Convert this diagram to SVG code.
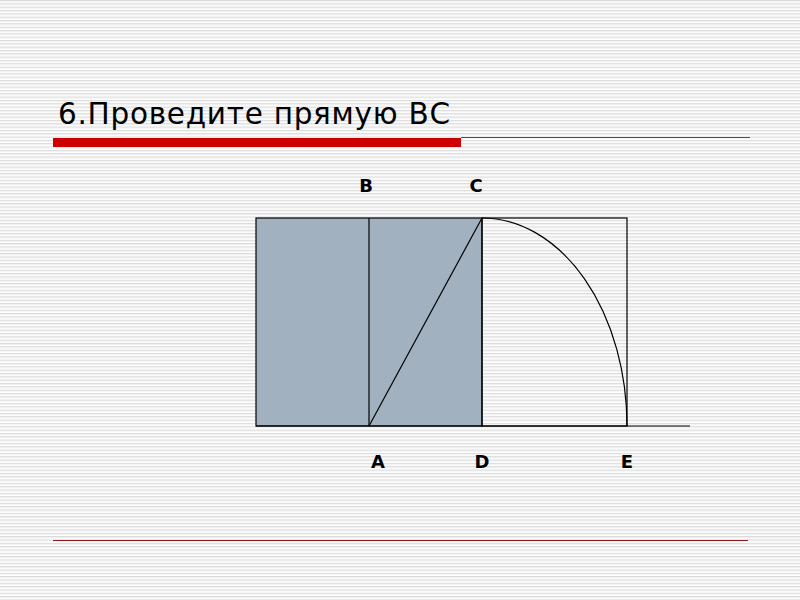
<svg xmlns="http://www.w3.org/2000/svg" width="800" height="600" viewBox="0 0 800 600">
<defs>
<pattern id="stripes" x="0" y="0" width="10" height="3.33" patternUnits="userSpaceOnUse">
<rect x="0" y="0" width="10" height="3.33" fill="#ffffff"/>
<rect x="0" y="0" width="10" height="1" fill="#dadada"/>
<rect x="0" y="1" width="10" height="1" fill="#eeeeee"/>
</pattern>
</defs>
<style>
.lbl{font-family:"DejaVu Sans",Verdana,sans-serif;font-weight:bold;font-size:18px;fill:#000;text-anchor:middle}
.ln{stroke:#000;stroke-width:1.2;fill:none}
</style>
<rect x="0" y="0" width="800" height="600" fill="url(#stripes)"/>
<text x="58" y="124" font-family="DejaVu Sans, Verdana, sans-serif" font-size="29.5" fill="#000" textLength="392" lengthAdjust="spacing">6.Проведите прямую ВС</text>
<rect x="53" y="138" width="408" height="9" fill="#cc0000"/>
<line x1="461" y1="137.5" x2="750" y2="137.5" stroke="#a52a2a" stroke-width="1"/>
<line x1="53" y1="540.5" x2="748" y2="540.5" stroke="#8b1a1a" stroke-width="1.2"/>
<g id="shaded">
<rect x="256" y="218" width="226" height="208" fill="#a2b1c0" stroke="#000" stroke-width="1.2"/>
</g>
<g id="rightrect">
<rect x="482" y="218" width="145" height="208" fill="none" stroke="#000" stroke-width="1.2"/>
</g>
<g id="connectors">
<line class="ln" x1="369" y1="218" x2="369" y2="426"/>
<line class="ln" x1="369" y1="426" x2="482" y2="218"/>
<line class="ln" x1="256" y1="426" x2="690" y2="426"/>
<path class="ln" d="M482 218 A145 208 0 0 1 627 426"/>
</g>
<g id="labels">
<text class="lbl" x="366" y="192">B</text>
<text class="lbl" x="476" y="192">C</text>
<text class="lbl" x="378" y="468">A</text>
<text class="lbl" x="482" y="468">D</text>
<text class="lbl" x="627" y="468">E</text>
</g>
</svg>
